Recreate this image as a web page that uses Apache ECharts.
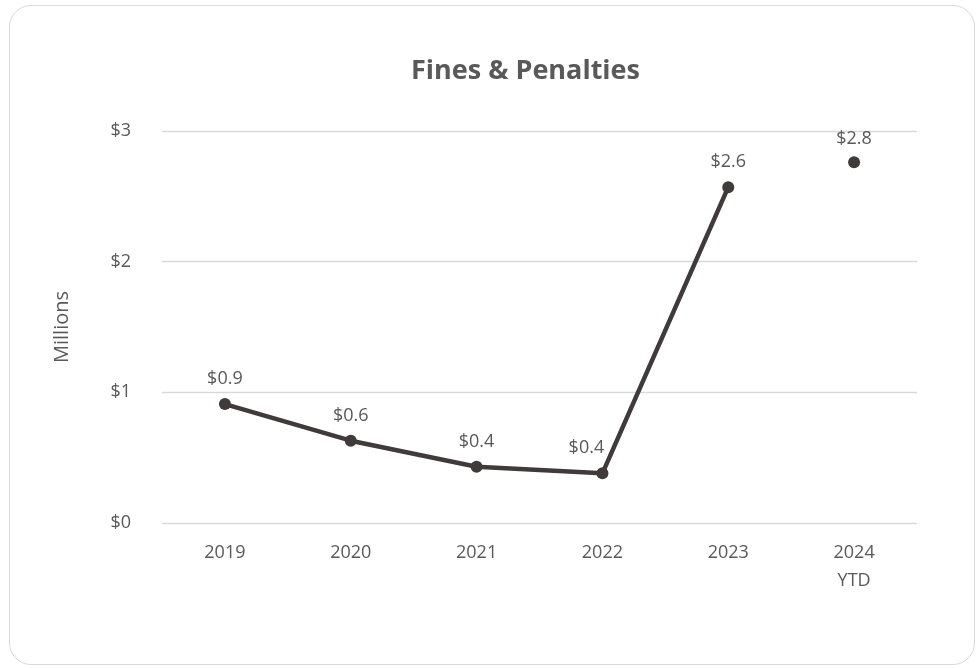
<!DOCTYPE html>
<html lang="en">
<head>
    <meta charset="UTF-8">
    <script src="https://cdn.jsdelivr.net/npm/echarts@6.0.0/dist/echarts.min.js"></script>
    <style>
        html, body { margin: 0; padding: 0; background: #fff; }
        #frame {
            position: absolute; left: 9px; top: 5px; width: 966px; height: 660px;
            border: 1.5px solid #d9d9d9; border-radius: 22px; box-sizing: border-box;
        }
        #chart { position: absolute; left: 0; top: 0; width: 977px; height: 668px; }
    </style>
</head>
<body>
<div id="frame"></div>
<div id="chart"></div>
<script type="text/javascript">

    var years = ["2019", "2020", "2021", "2022", "2023", "2024\nYTD"];
    var fullYears = [0.91, 0.63, 0.43, 0.38, 2.57, null];
    var ytd = [null, null, null, null, null, 2.76];
    var yTicks = [0, 1, 2, 3];

    var textColor = "#595959";
    var lineColor = "#403a3b";
    var font = "'Open Sans', 'Noto Sans', sans-serif";

    function money(v) {
        return "$" + v.toFixed(1);
    }

    // 2022 label sits left of its point so it doesn't collide with the climb
    var fullData = fullYears.map(function (v, i) {
        if (i === 3) return { value: v, label: { offset: [-16, 0] } };
        return v;
    });

    var chart = echarts.init(document.getElementById("chart"));
    var option = {
        animation: false,
        title: {
            text: "Fines & Penalties",
            left: 406,
            top: 53,
            textStyle: { fontFamily: font, fontSize: 27, fontWeight: "bold", color: textColor }
        },
        grid: { left: 162, right: 60, top: 131, bottom: 145 },
        xAxis: {
            type: "category",
            data: years,
            axisLine: { show: false },
            axisTick: { show: false },
            axisLabel: {
                color: textColor, fontFamily: font, fontSize: 18,
                margin: 16, lineHeight: 28
            }
        },
        yAxis: {
            type: "value",
            min: yTicks[0],
            max: yTicks[yTicks.length - 1],
            interval: 1,
            name: "Millions",
            nameLocation: "middle",
            nameGap: 90,
            nameTextStyle: { color: textColor, fontFamily: font, fontSize: 20 },
            axisLine: { show: false },
            axisTick: { show: false },
            splitLine: { lineStyle: { color: "#d9d9d9", width: 1.3 } },
            axisLabel: {
                color: textColor, fontFamily: font, fontSize: 18, margin: 31,
                formatter: function (v) { return "$" + v; }
            }
        },
        series: [
            {
                name: "Fines",
                type: "line",
                data: fullData,
                symbol: "circle",
                symbolSize: 12,
                lineStyle: { color: lineColor, width: 4.5 },
                itemStyle: { color: lineColor },
                label: {
                    show: true, position: "top", distance: 10,
                    color: textColor, fontFamily: font, fontSize: 18,
                    formatter: function (p) { return money(p.value); }
                }
            },
            {
                name: "YTD",
                type: "line",
                data: ytd,
                symbol: "circle",
                symbolSize: 12,
                lineStyle: { color: lineColor, width: 4.5 },
                itemStyle: { color: lineColor },
                label: {
                    show: true, position: "top", distance: 8,
                    color: textColor, fontFamily: font, fontSize: 18,
                    formatter: function (p) { return money(p.value); }
                }
            }
        ]
    };
    chart.setOption(option);
</script>
</body>
</html>
